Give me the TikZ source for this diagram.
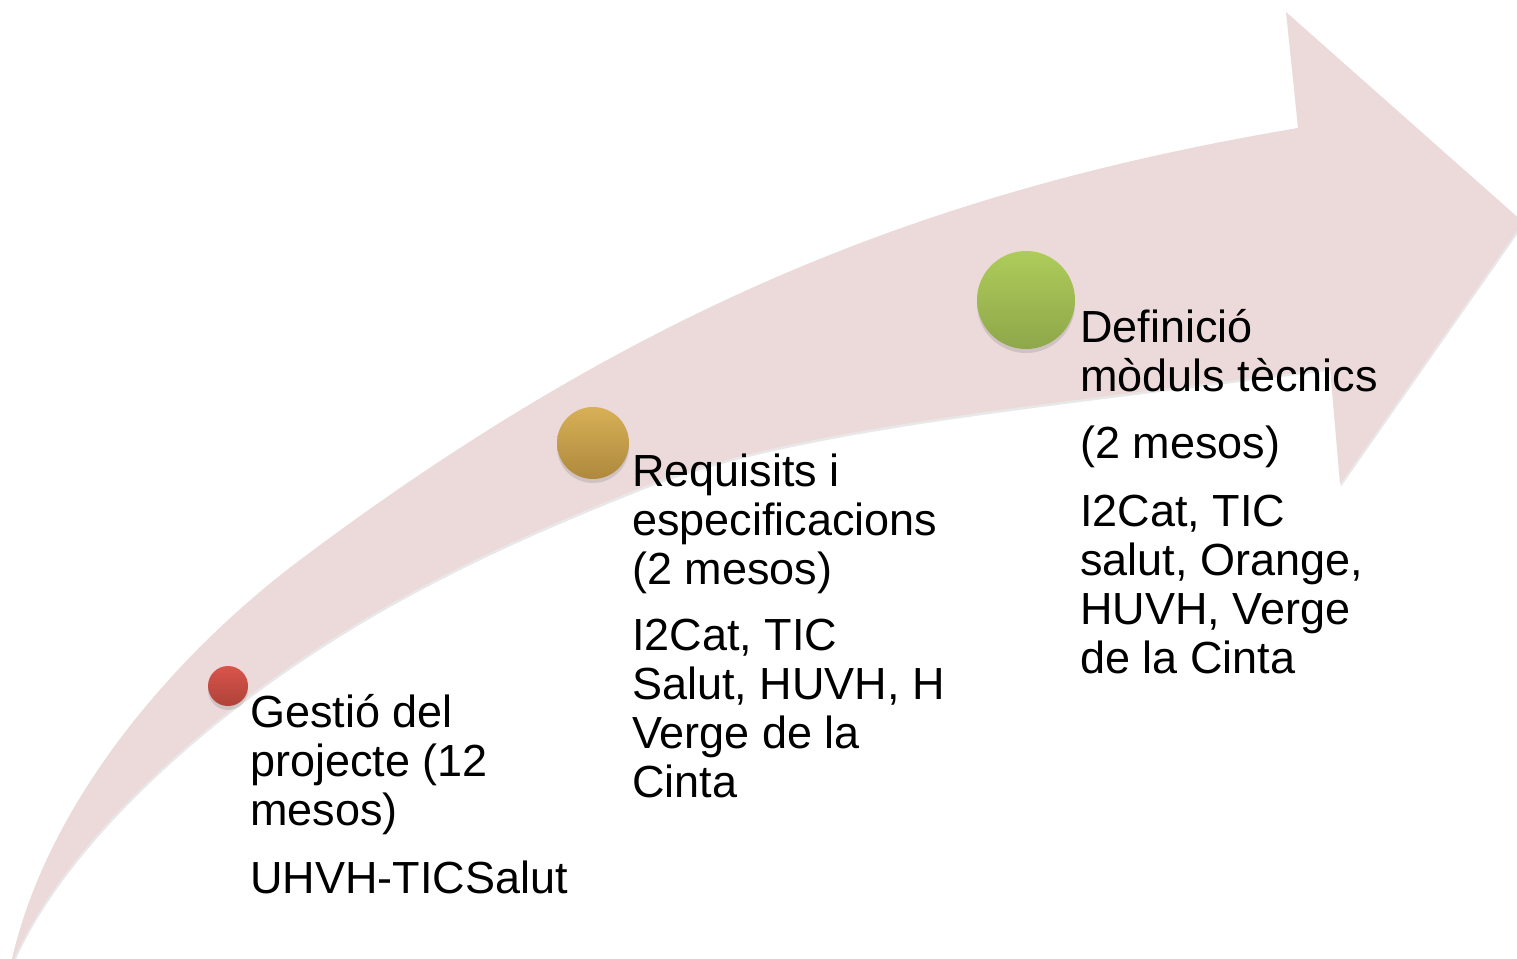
\documentclass[tikz,border=0pt]{standalone}
\usepackage{fontspec}
\setmainfont{Liberation Sans}
\usetikzlibrary{shadows}
\definecolor{bandpink}{RGB}{236,217,218}
\definecolor{redtop}{RGB}{217,84,74}
\definecolor{redbot}{RGB}{174,66,58}
\definecolor{goldtop}{RGB}{215,176,86}
\definecolor{goldbot}{RGB}{174,137,62}
\definecolor{greentop}{RGB}{174,204,90}
\definecolor{greenbot}{RGB}{142,167,74}
\tikzset{
  band/.style={fill=bandpink, drop shadow={opacity=0.18, shadow xshift=1pt, shadow yshift=-2.5pt}},
  dot/.style={circle, inner sep=0pt, shading=axis, shading angle=0,
    drop shadow={opacity=0.25, shadow xshift=0pt, shadow yshift=-4pt}},
  label/.style={anchor=base west, inner sep=0pt, align=left,
    font=\fontsize{45}{48.7}\selectfont, text=black}
}
\begin{document}
\begin{tikzpicture}[x=1pt, y=-1pt]
\clip (0,0) rectangle (1517,958);
\fill[white] (0,0) rectangle (1517,958);
% curved arrow: outer edge, head, inner edge
\path[band] (10,968)
  .. controls (45,800) and (180,650) .. (300,560)
  .. controls (650,297) and (948,187) .. (1298,128)
  -- (1286,12) -- (1523,222) -- (1340,484) -- (1330,368)
  .. controls (1030,407) and (790,428) .. (640,488)
  .. controls (510,540) and (380,598) .. (250,695)
  .. controls (170,755) and (55,858) .. (10,968)
  -- cycle;
% circles
\node[dot, minimum size=40pt, top color=redtop, bottom color=redbot] (c1) at (228,686) {};
\node[dot, minimum size=72pt, top color=goldtop, bottom color=goldbot] (c2) at (593,443) {};
\node[dot, minimum size=98pt, top color=greentop, bottom color=greenbot] (c3) at (1026,300) {};
% texts (anchored at the baseline of their last line)
\node[label] (t1) at (250,893) {Gestió del\\projecte (12\\mesos)\\[19pt]UHVH-TICSalut};
\node[label] (t2) at (632,797) {Requisits i\\especificacions\\(2 mesos)\\[18pt]I2Cat, TIC\\Salut, HUVH, H\\Verge de la\\Cinta};
\node[label] (t3) at (1080,673) {Definició\\mòduls tècnics\\[18pt](2 mesos)\\[20pt]I2Cat, TIC\\salut, Orange,\\HUVH, Verge\\de la Cinta};
\end{tikzpicture}
\end{document}
